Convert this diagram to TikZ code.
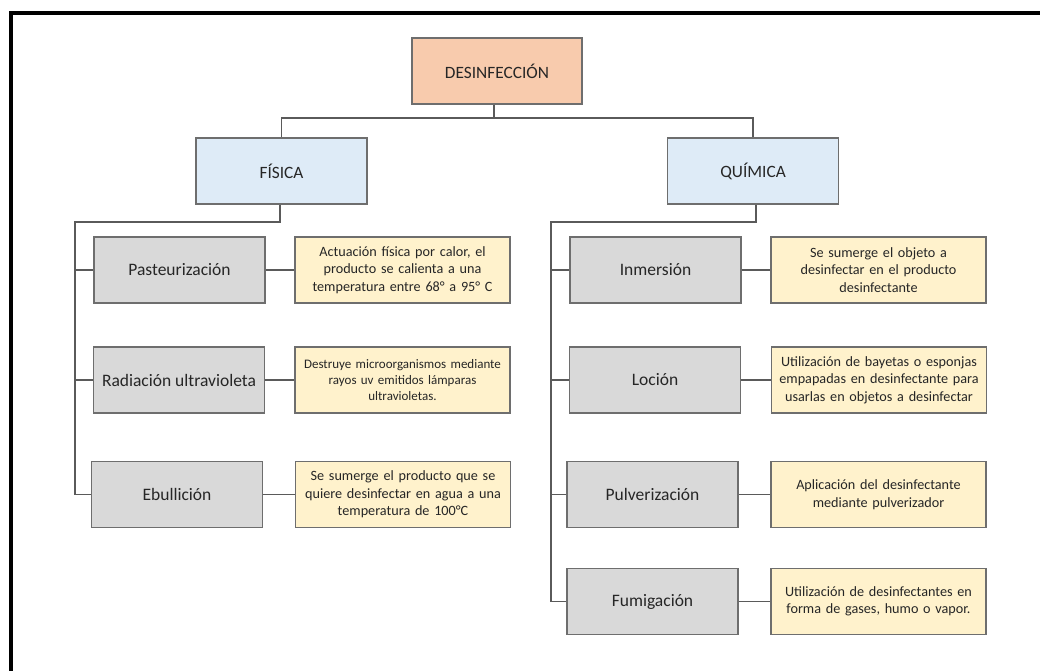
\documentclass[tikz,border=0pt]{standalone}
\usepackage{fontspec}
\setmainfont{Carlito}
\usetikzlibrary{positioning}
\definecolor{peach}{HTML}{F8CBAD}
\definecolor{lblue}{HTML}{DEEBF7}
\definecolor{lgray}{HTML}{D9D9D9}
\definecolor{lyel}{HTML}{FFF2CC}
\definecolor{edge}{HTML}{6E6E6E}
\definecolor{conn}{HTML}{5A5A5A}
\tikzset{
  base/.style={draw=edge, line width=1.3pt, inner sep=0pt, align=center, text=black!85,
    font=\fontsize{17.3}{20}\selectfont},
  topbox/.style={base, fill=peach, minimum width=170pt, minimum height=66pt},
  catbox/.style={base, fill=lblue, minimum width=171pt, minimum height=66pt},
  itembox/.style={base, fill=lgray, minimum width=171pt, minimum height=66pt,
    font=\fontsize{17.5}{20}\selectfont},
  descbox/.style={base, fill=lyel, minimum width=215pt, minimum height=66pt,
    text width=212pt, font=\fontsize{14.2}{17.5}\selectfont},
  desctight/.style={font=\fontsize{13}{16}\selectfont},
  link/.style={draw=conn, line width=1.1pt},
}
\begin{document}
\begin{tikzpicture}[x=1pt,y=-1pt]
\useasboundingbox (0,0) rectangle (1040,671);
\fill[white] (0,0) rectangle (1040,671);
% frame
\draw[line width=4pt, black] (11,671) -- (11,13) -- (1040,13);

\node[topbox] (des) at (497,71) {DESINFECCIÓN};
\node[catbox] (fis) at (281.5,171) {FÍSICA};
\node[catbox] (qui) at (753,171) {QUÍMICA};

\node[itembox] (pas) at (179.5,270) {Pasteurización};
\node[itembox] (rad) at (179,380) {Radiación ultravioleta};
\node[itembox] (ebu) at (177,494.5) {Ebullición};

\node[descbox] (dpas) at (402.5,270) {Actuación física por calor, el\\producto se calienta a una\\temperatura entre 68° a 95° C};
\node[descbox, desctight] (drad) at (402.5,380) {Destruye microorganismos mediante\\rayos uv emitidos lámparas\\ultravioletas.};
\node[descbox] (debu) at (403,494.5) {Se sumerge el producto que se\\quiere desinfectar en agua a una\\temperatura de 100°C};

\node[itembox] (inm) at (655.5,270) {Inmersión};
\node[itembox] (loc) at (655,380) {Loción};
\node[itembox] (pul) at (652.5,494.5) {Pulverización};
\node[itembox] (fum) at (652.5,601.5) {Fumigación};

\node[descbox] (dinm) at (878.5,270) {Se sumerge el objeto a\\desinfectar en el producto\\desinfectante};
\node[descbox] (dloc) at (879,380) {Utilización de bayetas o esponjas\\empapadas en desinfectante para\\usarlas en objetos a desinfectar};
\node[descbox] (dpul) at (878.5,494.5) {Aplicación del desinfectante\\mediante pulverizador};
\node[descbox] (dfum) at (878.5,601.5) {Utilización de desinfectantes en\\forma de gases, humo o vapor.};

% coordinates for trunks
\coordinate (top) at (494,118);
\coordinate (fj) at (280,222);
\coordinate (qj) at (756,222);
\coordinate (ftr) at (75,222);
\coordinate (qtr) at (551,222);

\draw[link] (des.south -| top) -- (top) -| (fis.north);
\draw[link] (top) -| (qui.north);

\draw[link] (fis.south -| fj) -- (fj) -- (ftr) |- (ebu.west);
\draw[link] (ftr |- pas.west) -- (pas.west);
\draw[link] (ftr |- rad.west) -- (rad.west);

\draw[link] (qui.south -| qj) -- (qj) -- (qtr) |- (fum.west);
\draw[link] (qtr |- inm.west) -- (inm.west);
\draw[link] (qtr |- loc.west) -- (loc.west);
\draw[link] (qtr |- pul.west) -- (pul.west);

\draw[link] (pas.east) -- (dpas.west);
\draw[link] (rad.east) -- (drad.west);
\draw[link] (ebu.east) -- (debu.west);
\draw[link] (inm.east) -- (dinm.west);
\draw[link] (loc.east) -- (dloc.west);
\draw[link] (pul.east) -- (dpul.west);
\draw[link] (fum.east) -- (dfum.west);
\end{tikzpicture}
\end{document}
